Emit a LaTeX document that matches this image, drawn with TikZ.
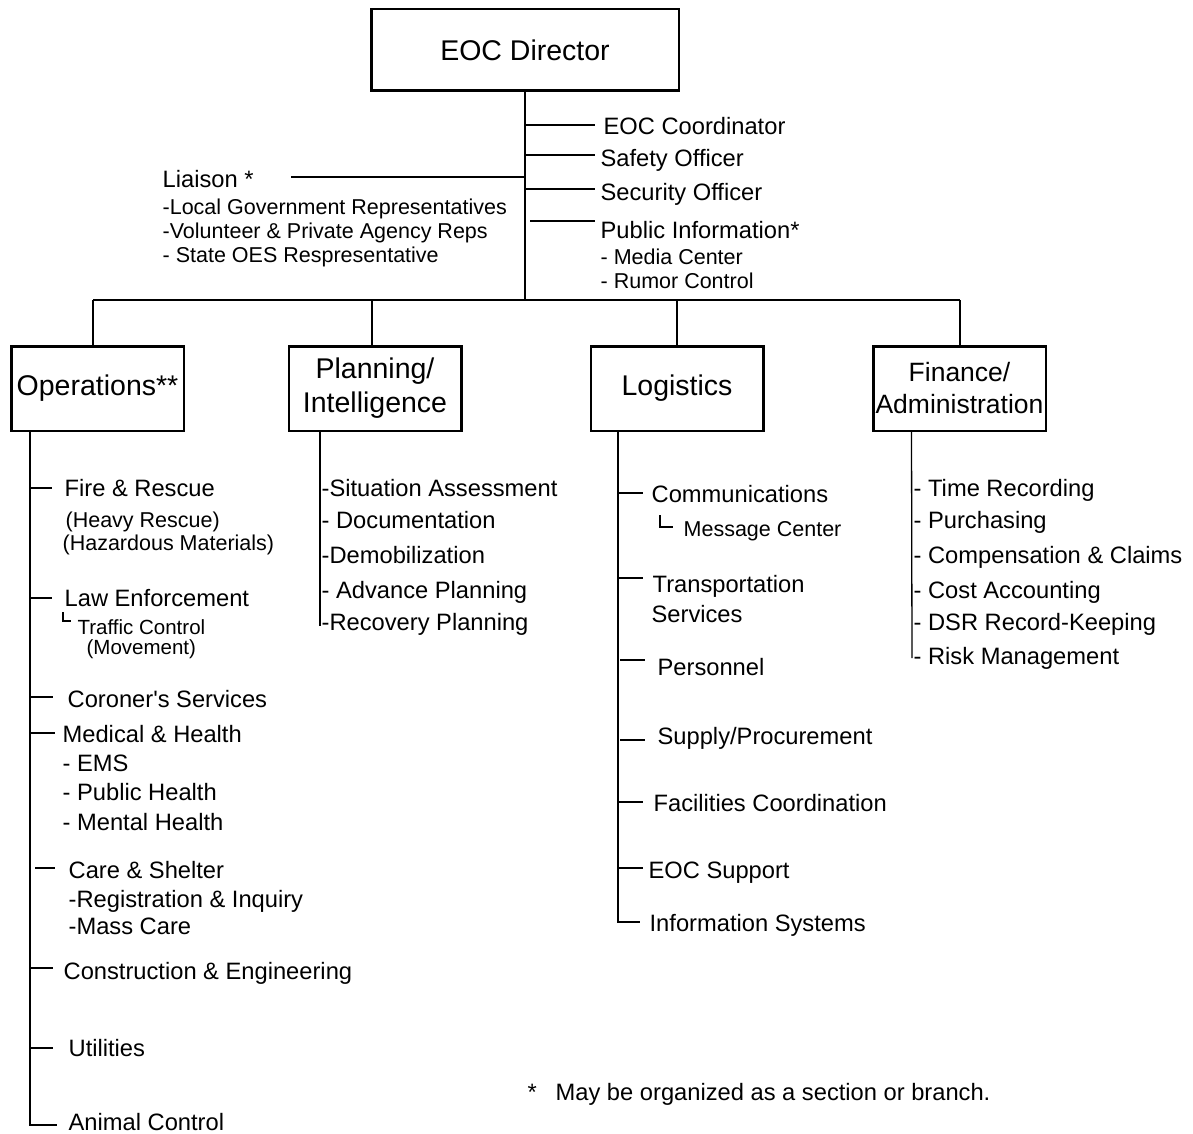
\documentclass[tikz,border=0pt]{standalone}
\usepackage{fontspec}
\setmainfont{Liberation Sans}
\begin{document}
\begin{tikzpicture}[x=1pt,y=-1pt,line width=1.3pt,
  box/.style={draw,line width=2.5pt,inner sep=0pt,align=center,minimum width=172.5pt,minimum height=84.5pt,font=\fontsize{28.5}{34}\selectfont},
  lbl/.style={anchor=west,inner sep=0pt,text height=17pt,text depth=0pt,font=\fontsize{23.7}{28}\selectfont},
  slbl/.style={anchor=west,inner sep=0pt,text height=15.4pt,text depth=0pt,font=\fontsize{21.5}{26}\selectfont}]
\useasboundingbox (0,0) rectangle (1193,1134);
\node[box,minimum width=307.5pt,minimum height=81.5pt] (dir) at (525,50) {EOC Director};
\node[box] (ops) at (97.5,388.5) {Operations**};
\node[box] (plan) at (375,388.5) {Planning/\\Intelligence};
\node[box] (log) at (677,388.5) {Logistics};
\node[box,font=\fontsize{26.5}{32}\selectfont] (fin) at (959.5,388.5) {Finance/\\Administration};
\coordinate (b1) at (93,300);
\coordinate (b2) at (372,300);
\coordinate (b3) at (677,300);
\coordinate (b4) at (960,300);
\draw (dir.south) -- (dir.south |- b1);
\draw (b1) -- (b4);
\draw (b1) -- (b1 |- ops.north);
\draw (b2) -- (b2 |- plan.north);
\draw (b3) -- (b3 |- log.north);
\draw (b4) -- (b4 |- fin.north);
\node[lbl] (coord) at (603,126) {EOC Coordinator};
\node[lbl] (safe) at (600,158) {Safety Officer};
\node[lbl] (sec) at (600,192) {Security Officer};
\node[lbl] (pio) at (600,230) {Public Information*};
\node[slbl] (media) at (600,257) {- Media Center};
\node[slbl] (rumor) at (600,281) {- Rumor Control};
\node[lbl] (liai) at (162,179) {Liaison *};
\node[slbl] (loc) at (162,207) {-Local Government Representatives};
\node[slbl] (vol) at (162,231) {-Volunteer \& Private Agency Reps};
\node[slbl] (oes) at (162,255) {- State OES Respresentative};
\draw ([shift={(0,-1)}]dir.south |- coord.west) -- ([shift={(-8,-1)}]coord.west);
\draw ([shift={(0,-3)}]dir.south |- safe.west) -- ([shift={(-5,-3)}]safe.west);
\draw ([shift={(0,-3)}]dir.south |- sec.west) -- ([shift={(-5,-3)}]sec.west);
\draw ([shift={(5,-9)}]dir.south |- pio.west) -- ([shift={(-5,-9)}]pio.west);
\draw ([shift={(0,-2)}]dir.south |- liai.west) -- ([shift={(37,-2)}]liai.east);
\node[lbl] (fire) at (64,488) {Fire \& Rescue};
\node[slbl] (heavy) at (65,520) {(Heavy Rescue)};
\node[slbl] (haz) at (62,543) {(Hazardous Materials)};
\node[lbl] (law) at (64,598) {Law Enforcement};
\node[slbl,anchor=north west,align=left,text height=,text depth=,font=\fontsize{20.5}{20}\selectfont] (traf) at (77,619) {Traffic Control\\\hspace*{9pt}(Movement)};
\node[lbl] (cor) at (67,699) {Coroner\textquotesingle s Services};
\node[lbl] (med) at (62,734) {Medical \& Health};
\node[lbl] (ems) at (62,763) {- EMS};
\node[lbl] (pub) at (62,792) {- Public Health};
\node[lbl] (ment) at (62,822) {- Mental Health};
\node[lbl] (care) at (68,870) {Care \& Shelter};
\node[lbl] (reg) at (68,899) {-Registration \& Inquiry};
\node[lbl] (mass) at (68,926) {-Mass Care};
\node[lbl] (cons) at (63,971) {Construction \& Engineering};
\node[lbl] (util) at (68,1048) {Utilities};
\node[lbl] (anim) at (68,1122) {Animal Control};
\coordinate (ot) at ([shift={(20,0)}]ops.south west);
\draw (ot) |- ([shift={(-11,3)}]anim.west);
\draw (ot |- fire.west) -- ++(22,0);
\draw (ot |- law.west) -- ++(22,0);
\draw ([shift={(-1,5)}]law.south west) |- ([shift={(-6,2)}]traf.north west);
\draw ([shift={(0,-2)}]ot |- cor.west) -- ++(23,0);
\draw ([shift={(0,-1)}]ot |- med.west) -- ++(25,0);
\draw ([shift={(5,-2)}]ot |- care.west) -- ++(20,0);
\draw ([shift={(0,-3)}]ot |- cons.west) -- ++(23,0);
\draw (ot |- util.west) -- ++(23,0);
\node[lbl] (sit) at (321,488) {-Situation Assessment};
\node[lbl] (doc) at (321,520) {- Documentation};
\node[lbl] (demob) at (321,555) {-Demobilization};
\node[lbl] (adv) at (321,590) {- Advance Planning};
\node[lbl] (rec) at (321,622) {-Recovery Planning};
\coordinate (pt) at ([shift={(32.5,0)}]plan.south west);
\draw (pt) -- ([shift={(-1,4)}]rec.west);
\node[lbl] (comm) at (651,494) {Communications};
\node[slbl] (msg) at (683,529) {Message Center};
\node[lbl] (trans) at (652,584) {Transportation};
\node[lbl] (serv) at (651,614) {Services};
\node[lbl] (pers) at (657,667) {Personnel};
\node[lbl] (supp) at (657,736) {Supply/Procurement};
\node[lbl] (fac) at (653,803) {Facilities Coordination};
\node[lbl] (eocs) at (648,870) {EOC Support};
\node[lbl] (info) at (649,923) {Information Systems};
\coordinate (lt) at ([shift={(28.5,0)}]log.south west);
\draw (lt) |- ([shift={(-9,-1)}]info.west);
\draw ([shift={(0,-1)}]lt |- comm.west) -- ++(25,0);
\draw ([shift={(9,12)}]comm.south west) |- ([shift={(-10,-2)}]msg.west);
\draw ([shift={(0,-6)}]lt |- trans.west) -- ++(25,0);
\draw ([shift={(2,-7)}]lt |- pers.west) -- ++(25,0);
\draw ([shift={(2,4)}]lt |- supp.west) -- ++(25,0);
\draw ([shift={(0,-1)}]lt |- fac.west) -- ++(25,0);
\draw ([shift={(0,-2)}]lt |- eocs.west) -- ++(25,0);
\node[lbl] (time) at (913,488) {- Time Recording};
\node[lbl] (purch) at (913,520) {- Purchasing};
\node[lbl] (comp) at (913,555) {- Compensation \& Claims};
\node[lbl] (cost) at (913,590) {- Cost Accounting};
\node[lbl] (dsr) at (913,622) {- DSR Record-Keeping};
\node[lbl] (risk) at (913,656) {- Risk Management};
\coordinate (ft) at ([shift={(39.5,0)}]fin.south west);
\draw (ft) -- ([shift={(-1,2)}]risk.west);
\node[lbl] (fnmark) at (527,1092) {*};
\node[lbl] (note) at (555,1092) {May be organized as a section or branch.};
\end{tikzpicture}
\end{document}
